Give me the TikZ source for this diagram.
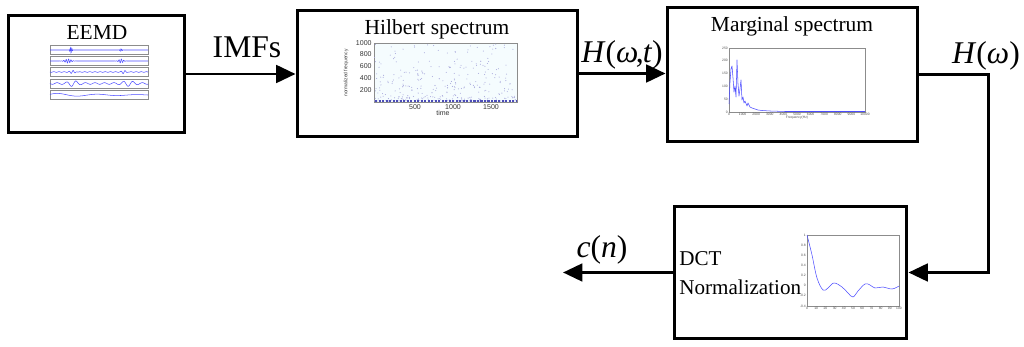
\documentclass[tikz,border=0pt]{standalone}
\usepackage{fontspec}
\setmainfont{Liberation Serif}
\newfontfamily\plotfont{Liberation Sans}
\usetikzlibrary{arrows.meta}

\tikzset{
  blockbox/.style={draw,line width=1.7pt,inner sep=0pt},
  flow/.style={line width=1.7pt},
  blocktitle/.style={font=\fontsize{12.2}{14}\selectfont,inner sep=0pt},
  siglabel/.style={font=\fontsize{18}{20}\selectfont,inner sep=0pt},
  axisbox/.style={draw=black!45,line width=0.2pt},
  sigline/.style={blue!70,line width=0.3pt},
  ticklbl/.style={font=\plotfont\fontsize{1.9}{2.2}\selectfont,inner sep=0.2pt,text=black!70},
  bigtick/.style={font=\plotfont\fontsize{4}{5}\selectfont,inner sep=0.6pt,text=black!80}
}

\begin{document}
\begin{tikzpicture}[x=0.02cm,y=-0.02cm,>={Triangle[length=11pt,width=10pt]}]
  \useasboundingbox (0,0) rectangle (1024,347);

  % blocks
  \node[blockbox,minimum width=3.54cm,minimum height=2.36cm] (eemd) at (96.5,74) {};
  \node[blockbox,minimum width=5.62cm,minimum height=2.54cm] (hilbert) at (437.5,73.5) {};
  \node[blockbox,minimum width=5.02cm,minimum height=2.70cm] (marginal) at (792.5,74.5) {};
  \node[blockbox,minimum width=4.66cm,minimum height=2.66cm] (dct) at (790.5,272.5) {};

  \node[blocktitle] (eemdtxt) at (97,33) {EEMD};
  \node[blocktitle] (hilberttxt) at (437,29) {Hilbert spectrum};
  \node[blocktitle] (margtxt) at (792,26) {Marginal spectrum};
  \node[blocktitle,anchor=west,align=left,font=\fontsize{12}{16.5}\selectfont] (dcttxt) at (679,273) {DCT\\Normalization};

  % EEMD: the IMF panels (t runs 0..98 from x=50)
  \foreach \c in {50,61,72,83.5,95}
    \draw[axisbox] (50,\c-4.5) rectangle (148,\c+4.5);
  \draw[sigline] plot[domain=0:98,samples=300]
    (50+\x,{50+3.5*exp(-min(((\x-21)/1.3)^2,15))*sin(2*mod(130*\x,180))+1.2*exp(-min(((\x-71)/1.6)^2,15))*sin(2*mod(120*\x,180))});
  \draw[sigline] plot[domain=0:98,samples=300]
    (50+\x,{61+2*exp(-min(((\x-18)/4)^2,15))*sin(150*\x)+2*exp(-min(((\x-71)/3)^2,15))*sin(150*\x)});
  \draw[sigline] plot[domain=0:98,samples=300]
    (50+\x,{72+1.6*exp(-min(((\x-23)/3.5)^2,15))*sin(90*\x)+1.4*exp(-min(((\x-74)/3)^2,15))*sin(90*\x)+0.3*sin(70*\x)});
  \draw[sigline] plot[domain=0:98,samples=300]
    (50+\x,{83.5+(0.8+2.2*exp(-min(((\x-23)/6)^2,15))+2*exp(-min(((\x-78)/7)^2,15)))*sin(38*\x)});
  \draw[sigline] plot[domain=0:98,samples=200]
    (50+\x,{95+1.8*sin(9*\x+200)*exp(-\x/60)});

  % Hilbert spectrum
  \draw[axisbox,fill=cyan!4] (374,43) rectangle (517,102);
  \pgfmathsetseed{11}
  \foreach \i in {1,...,320}{
    \pgfmathsetmacro\dx{374.5+142*rnd}
    \pgfmathsetmacro\rr{rnd}
    \pgfmathsetmacro\dy{101-57*\rr*\rr}
    \fill[blue!60!black!35] (\dx,\dy) circle (0.3pt);
  }
  \draw[blue!60!black!70,line width=0.6pt,dash pattern=on 1.2pt off 0.8pt] (375,101) -- (516,101);
  \foreach \v/\yy in {1000/43,800/54.5,600/66,400/78,200/90}
    \node[bigtick,anchor=east] (hy\v) at (373,\yy) {\v};
  \foreach \v/\xx in {500/415,1000/453,1500/491}
    \node[bigtick,anchor=north] (hx\v) at (\xx,103) {\v};
  \node[bigtick] (htime) at (443,113) {time};
  \node[bigtick,rotate=90,font=\plotfont\fontsize{2.8}{3}\selectfont] (hfreq) at (346,73) {normalized frequency};

  % marginal spectrum
  \draw[axisbox] (729,48) rectangle (865,112);
  \draw[sigline,line join=round] plot coordinates {(729,104) (730,82) (731,69) (732,66) (733,78)
    (734,92) (735,86) (736,97) (737,60) (738,84) (739,96) (740,89) (741,80) (742,100)
    (743,97) (744,103) (745,101) (747,106) (748,103) (750,107) (752,108) (755,109)
    (758,110) (762,110.5) (770,111) (785,111.5) (865,111.5)};
  \foreach \v/\yy in {250/48,200/60.8,150/73.6,100/86.4,50/99.2,0/112}
    \node[ticklbl,anchor=east] (my\v) at (728.5,\yy) {\v};
  \foreach \k in {0,...,10}
    \node[ticklbl,anchor=north] (mx\k) at (729+13.6*\k,112.5) {\pgfmathparse{int(1000*\k)}\pgfmathresult};
  \node[ticklbl] (mlabel) at (797,117.5) {Frequency(Hz)};

  % DCT coefficients
  \draw[axisbox] (807,235) rectangle (899,306);
  \draw[sigline] plot[smooth,tension=0.6] coordinates {(807,235) (812,255) (817,278) (823,290)
    (828,288) (834,283) (842,287) (848,293) (853,297) (858,291) (865,284) (870,285)
    (875,288) (883,287) (892,289) (899,286)};
  \foreach \v [count=\k from 0] in {1,0.8,0.6,0.4,0.2,0,-0.2,-0.4}
    \node[ticklbl,anchor=east] (dy\k) at (806.5,235+10.14*\k) {\v};
  \foreach \k in {0,...,10}
    \node[ticklbl,anchor=north] (dx\k) at (807+9.2*\k,306.5) {\pgfmathparse{int(10*\k)}\pgfmathresult};

  % signal flow
  \coordinate (turn) at (988,150);
  \coordinate (out) at (563,272.5);
  \draw[flow,->] (eemd.east) -- (eemd.east -| hilbert.west);
  \draw[flow,->] (hilbert.east) -- (hilbert.east -| marginal.west);
  \draw[flow,->] (marginal.east) -| (turn) |- (dct.east);
  \draw[flow,->] (dct.west) -- (out);

  \node[siglabel] (imfs) at (247,47) {IMFs};
  \node[siglabel] (hwt) at (622,55) {\textit{H}(\textit{ω}\kern-1.5pt,\kern-0.5pt\textit{t})};
  \node[siglabel] (hw) at (986,56) {\textit{H}(\textit{ω})};
  \node[siglabel] (cn) at (602,250) {\textit{c}(\textit{n})};
\end{tikzpicture}
\end{document}
